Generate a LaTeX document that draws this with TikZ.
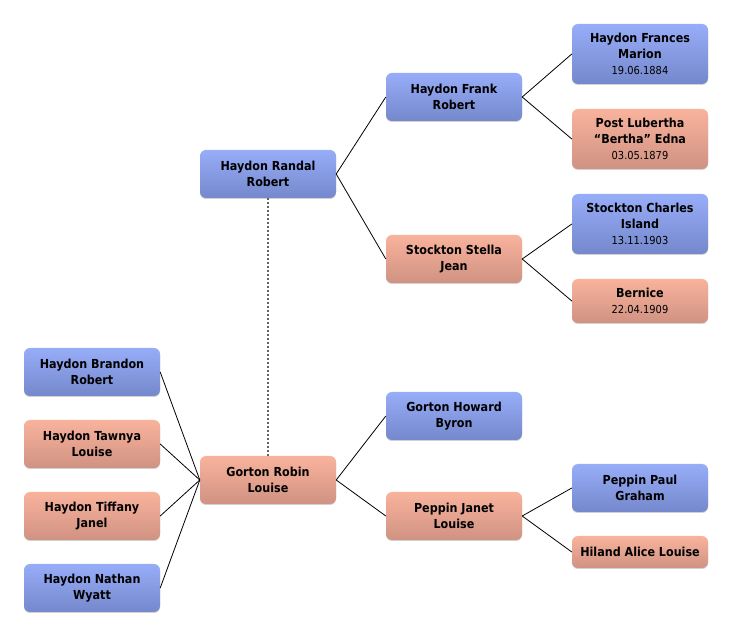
\documentclass[tikz,border=0pt]{standalone}
\usepackage{fontspec}
\setmainfont[FakeStretch=0.9]{DejaVu Sans}
\usetikzlibrary{shadows}
\definecolor{bluetop}{RGB}{151,173,248}
\definecolor{bluebot}{RGB}{117,136,204}
\definecolor{salmtop}{RGB}{249,179,157}
\definecolor{salmbot}{RGB}{208,146,130}
\definecolor{linkgray}{RGB}{100,100,100}
\tikzset{
  person/.style={rectangle, rounded corners=6pt, minimum width=136pt, inner sep=0pt,
    align=center, text=black, font=\fontsize{12.4}{16}\selectfont\bfseries,
    drop shadow={shadow xshift=0pt, shadow yshift=-1pt, opacity=0.18, fill=black}},
  male/.style={person, top color=bluetop, bottom color=bluebot},
  female/.style={person, top color=salmtop, bottom color=salmbot},
  link/.style={draw=black, line width=0.8pt},
  spouse/.style={draw=linkgray, line width=2.2pt, dash pattern=on 2pt off 2pt},
}
\newcommand{\dt}[1]{{\fontsize{11}{14}\selectfont\mdseries #1}}
\begin{document}
\begin{tikzpicture}[x=1pt,y=-1pt]
\useasboundingbox[fill=white] (0,0) rectangle (732,636);
% generation columns
\node[male, minimum height=48pt] (randal) at (268,174) {Haydon Randal\\Robert};
\node[male, minimum height=48pt] (frank) at (454,97) {Haydon Frank\\Robert};
\node[female, minimum height=48pt] (stella) at (454,259) {Stockton Stella\\Jean};
\node[male, minimum height=60pt] (frances) at (640,54) {Haydon Frances\\Marion\\\dt{19.06.1884}};
\node[female, minimum height=60pt] (lubertha) at (640,139) {Post Lubertha\\“Bertha” Edna\\\dt{03.05.1879}};
\node[male, minimum height=60pt] (charles) at (640,224) {Stockton Charles\\Island\\\dt{13.11.1903}};
\node[female, minimum height=44pt] (bernice) at (640,301) {Bernice\\\dt{22.04.1909}};

\node[female, minimum height=48pt] (robin) at (268,480) {Gorton Robin\\Louise};
\node[male, minimum height=48pt] (howard) at (454,416) {Gorton Howard\\Byron};
\node[female, minimum height=48pt] (janet) at (454,516) {Peppin Janet\\Louise};
\node[male, minimum height=48pt] (paul) at (640,488) {Peppin Paul\\Graham};
\node[female, minimum height=32pt] (alice) at (640,552) {Hiland Alice Louise};

\node[male, minimum height=48pt] (brandon) at (92,372) {Haydon Brandon\\Robert};
\node[female, minimum height=48pt] (tawnya) at (92,444) {Haydon Tawnya\\Louise};
\node[female, minimum height=48pt] (tiffany) at (92,516) {Haydon Tiffany\\Janel};
\node[male, minimum height=48pt] (nathan) at (92,588) {Haydon Nathan\\Wyatt};

% connectors
\draw[link] (randal.east) -- (frank.west);
\draw[link] (randal.east) -- (stella.west);
\draw[link] (frank.east) -- (frances.west);
\draw[link] (frank.east) -- (lubertha.west);
\draw[link] (stella.east) -- (charles.west);
\draw[link] (stella.east) -- (bernice.west);
\draw[link] (robin.east) -- (howard.west);
\draw[link] (robin.east) -- (janet.west);
\draw[link] (janet.east) -- (paul.west);
\draw[link] (janet.east) -- (alice.west);
\draw[link] (brandon.east) -- (robin.west);
\draw[link] (tawnya.east) -- (robin.west);
\draw[link] (tiffany.east) -- (robin.west);
\draw[link] (nathan.east) -- (robin.west);
\draw[spouse] (randal.south) -- (robin.north);
\end{tikzpicture}
\end{document}
